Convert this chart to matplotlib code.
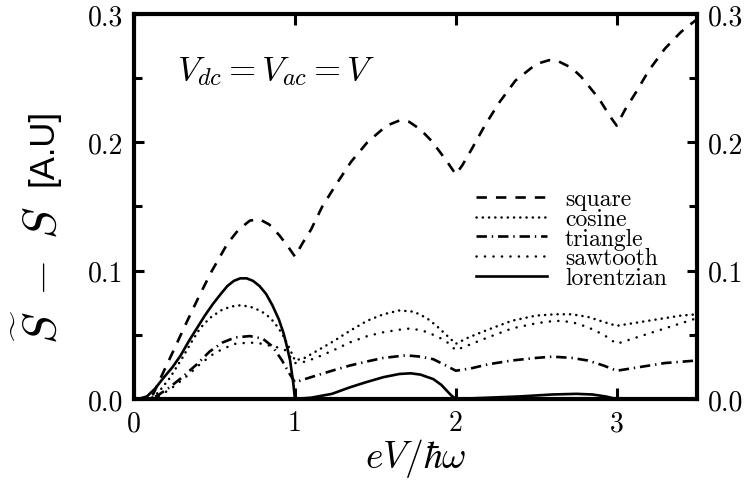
import matplotlib
matplotlib.use("Agg")
import matplotlib.pyplot as plt
from matplotlib.ticker import MultipleLocator, FixedLocator, FuncFormatter

# Excess noise curves for several drive shapes, V_dc = V_ac = V
x_square = [0.00, 0.08, 0.12, 0.16, 0.25, 0.32, 0.40, 0.48, 0.58, 0.65, 0.72, 0.78, 0.84, 0.90, 0.95, 1.00,
            1.05, 1.10, 1.17, 1.25, 1.35, 1.45, 1.57, 1.65, 1.71, 1.78, 1.85, 1.94, 2.00,
            2.04, 2.10, 2.18, 2.27, 2.37, 2.50, 2.58, 2.64, 2.72, 2.78, 2.89, 2.96, 3.00,
            3.05, 3.12, 3.20, 3.30, 3.40, 3.50]
y_square = [0.000, 0.000, 0.004, 0.015, 0.039, 0.058, 0.079, 0.099, 0.121, 0.132, 0.139, 0.140, 0.136, 0.128, 0.120, 0.111,
            0.122, 0.132, 0.150, 0.166, 0.185, 0.200, 0.213, 0.217, 0.216, 0.210, 0.201, 0.186, 0.175,
            0.182, 0.195, 0.213, 0.231, 0.248, 0.261, 0.264, 0.263, 0.258, 0.251, 0.234, 0.220, 0.213,
            0.225, 0.239, 0.256, 0.273, 0.286, 0.296]

x_cosine = [0.00, 0.10, 0.15, 0.22, 0.30, 0.36, 0.41, 0.47, 0.54, 0.60, 0.66, 0.72, 0.78, 0.82, 0.87, 0.92, 0.96, 0.99, 1.00,
            1.06, 1.13, 1.24, 1.34, 1.45, 1.55, 1.65, 1.74, 1.82, 1.88, 1.94, 2.00,
            2.08, 2.20, 2.35, 2.50, 2.62, 2.72, 2.82, 2.92, 3.00,
            3.10, 3.20, 3.30, 3.40, 3.50]
y_cosine = [0.000, 0.000, 0.005, 0.016, 0.032, 0.045, 0.055, 0.063, 0.069, 0.072, 0.073, 0.072, 0.069, 0.066, 0.060, 0.051, 0.041, 0.033, 0.030,
            0.032, 0.037, 0.045, 0.053, 0.061, 0.066, 0.069, 0.068, 0.063, 0.057, 0.050, 0.043,
            0.048, 0.054, 0.061, 0.065, 0.066, 0.066, 0.064, 0.060, 0.057,
            0.059, 0.061, 0.063, 0.065, 0.066]

x_triangle = [0.00, 0.10, 0.15, 0.22, 0.30, 0.39, 0.47, 0.55, 0.63, 0.72, 0.80, 0.86, 0.92, 0.96, 1.00,
              1.10, 1.23, 1.34, 1.44, 1.55, 1.69, 1.78, 1.86, 1.94, 2.00,
              2.10, 2.20, 2.35, 2.50, 2.60, 2.72, 2.82, 2.92, 3.00,
              3.10, 3.20, 3.30, 3.40, 3.50]
y_triangle = [0.000, 0.000, 0.003, 0.009, 0.017, 0.027, 0.037, 0.044, 0.048, 0.049, 0.047, 0.041, 0.030, 0.021, 0.013,
              0.017, 0.022, 0.026, 0.029, 0.032, 0.034, 0.033, 0.031, 0.026, 0.022,
              0.024, 0.027, 0.030, 0.032, 0.033, 0.032, 0.030, 0.026, 0.022,
              0.024, 0.026, 0.028, 0.029, 0.030]

x_sawtooth = [0.00, 0.12, 0.18, 0.25, 0.33, 0.40, 0.48, 0.55, 0.63, 0.72, 0.80, 0.86, 0.90, 0.94, 0.97, 1.00,
              1.06, 1.13, 1.24, 1.34, 1.45, 1.55, 1.65, 1.72, 1.80, 1.88, 1.94, 2.00,
              2.10, 2.20, 2.35, 2.50, 2.62, 2.72, 2.82, 2.92, 3.00,
              3.10, 3.20, 3.30, 3.40, 3.50]
y_sawtooth = [0.000, 0.000, 0.004, 0.010, 0.018, 0.026, 0.034, 0.039, 0.043, 0.044, 0.043, 0.041, 0.040, 0.038, 0.033, 0.028,
              0.029, 0.032, 0.038, 0.044, 0.049, 0.052, 0.054, 0.055, 0.053, 0.049, 0.045, 0.038,
              0.043, 0.048, 0.055, 0.059, 0.061, 0.060, 0.056, 0.050, 0.043,
              0.047, 0.051, 0.055, 0.059, 0.063]

x_lorentz = [0.00, 0.04, 0.08, 0.13, 0.18, 0.24, 0.29, 0.34, 0.39, 0.44, 0.49, 0.54, 0.58, 0.62, 0.66, 0.70, 0.74, 0.78,
             0.82, 0.86, 0.90, 0.93, 0.95, 0.97, 0.98, 0.99, 1.00,
             1.10, 1.23, 1.34, 1.44, 1.55, 1.65, 1.72, 1.78, 1.86, 1.91, 1.94, 1.97, 2.00,
             2.20, 2.40, 2.60, 2.75, 2.85, 2.93, 3.00, 3.50]
y_lorentz = [0.000, 0.0005, 0.002, 0.008, 0.016, 0.025, 0.034, 0.045, 0.055, 0.065, 0.074, 0.082, 0.088, 0.092, 0.094, 0.094, 0.092, 0.088,
             0.082, 0.073, 0.062, 0.051, 0.041, 0.030, 0.021, 0.012, 0.000,
             0.001, 0.004, 0.009, 0.013, 0.017, 0.0195, 0.020, 0.019, 0.0155, 0.011, 0.007, 0.003, 0.000,
             0.001, 0.002, 0.0035, 0.004, 0.0035, 0.002, 0.000, 0.000]

labels = ["square", "cosine", "triangle", "sawtooth", "lorentzian"]
x_ticks = [0, 1, 2, 3]
y_ticks = [0.0, 0.1, 0.2, 0.3]

plt.rcParams["font.family"] = "cmr10"
plt.rcParams["mathtext.fontset"] = "cm"
plt.rcParams["axes.unicode_minus"] = False
plt.rcParams["lines.scale_dashes"] = False

fig = plt.figure(figsize=(7.49, 4.85), dpi=100)
ax = fig.add_axes([0.179, 0.1753, 0.7517, 0.7938])

lw = 1.9
ax.plot(x_square, y_square, color="black", lw=lw, linestyle=(0, (7.5, 6.5)), label=labels[0])
ax.plot(x_cosine, y_cosine, color="black", lw=1.8, linestyle=(0, (0.1, 4.4)),
        dash_capstyle="round", label=labels[1])
ax.plot(x_triangle, y_triangle, color="black", lw=lw, linestyle=(0, (7.5, 3.5, 1.0, 3.5)), label=labels[2])
ax.plot(x_sawtooth, y_sawtooth, color="black", lw=1.8, linestyle=(0, (0.1, 6.0)),
        dash_capstyle="round", label=labels[3])
ax.plot(x_lorentz, y_lorentz, color="black", lw=lw, linestyle="-", label=labels[4])

ax.set_xlim(0, 3.5)
ax.set_ylim(0, 0.3)

for s in ax.spines.values():
    s.set_linewidth(3.0)

ax.xaxis.set_major_locator(FixedLocator(x_ticks))
ax.yaxis.set_major_locator(FixedLocator(y_ticks))
ax.yaxis.set_minor_locator(MultipleLocator(0.05))
ax.xaxis.set_major_formatter(FuncFormatter(lambda v, p: f"{v:.0f}"))
ax.yaxis.set_major_formatter(FuncFormatter(lambda v, p: f"{v:.1f}"))
ax.tick_params(axis="both", which="both", direction="in", width=2.2, labelsize=20)
ax.tick_params(axis="y", which="major", length=7, pad=8, left=True, right=True, labelright=True)
ax.tick_params(axis="y", which="minor", length=6, left=True, right=True)
ax.tick_params(axis="x", which="major", length=8, pad=8, top=True, bottom=True)

ax.set_xlabel(r"$eV/\hbar\omega$", fontsize=27, labelpad=0)

fig.text(0.057, 0.695, "[A.U]", rotation=90, ha="center", va="center",
         family="Liberation Sans", fontsize=25)
fig.text(0.054, 0.432, r"$\widetilde{S}\;-\;S$", rotation=90, ha="center", va="center", fontsize=34)

ax.text(0.076, 0.852, r"$V_{dc}=V_{ac}=V$", transform=ax.transAxes, fontsize=25,
        ha="left", va="center")

leg = ax.legend(loc="upper left", bbox_to_anchor=(0.608, 0.548), frameon=False, fontsize=17,
                handlelength=3.0, handletextpad=0.75, labelspacing=-0.1, borderpad=0, borderaxespad=0)

fig.savefig("out.png", dpi=100)
